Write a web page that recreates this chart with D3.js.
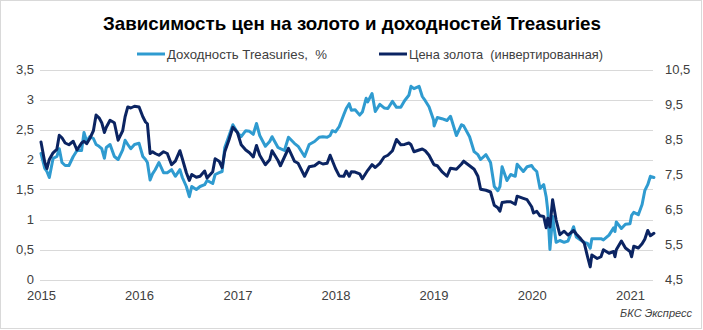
<!DOCTYPE html>
<html>
<head>
<meta charset="utf-8">
<script src="https://cdn.jsdelivr.net/npm/d3@7/dist/d3.min.js"></script>
<style>
  html, body { margin: 0; padding: 0; background: #ffffff; }
  svg { display: block; font-family: "Liberation Sans", Arial, sans-serif; }
</style>
</head>
<body>
<svg id="chart" width="703" height="330"></svg>
<script>
// ---------------- DATA ----------------
const titleText = "Зависимость цен на золото и доходностей Treasuries";
const seriesNames = ["Доходность Treasuries,  %", "Цена золота  (инвертированная)"];
const sourceText = "БКС Экспресс";

const dates = [
  "2015-01-01","2015-01-15","2015-01-23","2015-02-01","2015-02-15","2015-03-01","2015-03-10","2015-03-20",
  "2015-04-01","2015-04-15","2015-05-01","2015-05-15","2015-06-01","2015-06-10","2015-06-20","2015-07-01",
  "2015-07-15","2015-07-25","2015-08-05","2015-08-15","2015-08-25","2015-09-01","2015-09-15","2015-10-01",
  "2015-10-15","2015-11-01","2015-11-10","2015-11-20","2015-12-01","2015-12-15",
  "2016-01-01","2016-01-15","2016-01-25","2016-02-01","2016-02-11","2016-02-20","2016-03-01","2016-03-15",
  "2016-04-01","2016-04-15","2016-05-01","2016-05-15","2016-06-01","2016-06-10","2016-06-25","2016-07-06",
  "2016-07-15","2016-08-01","2016-08-15","2016-09-01","2016-09-10","2016-10-01","2016-10-10","2016-10-25",
  "2016-11-05","2016-11-15","2016-12-01","2016-12-15",
  "2017-01-01","2017-01-15","2017-02-01","2017-02-15","2017-03-01","2017-03-13","2017-03-25","2017-04-15",
  "2017-05-01","2017-05-10","2017-06-01","2017-06-10","2017-06-25","2017-07-10","2017-08-01","2017-08-15",
  "2017-09-08","2017-09-25","2017-10-15","2017-11-01","2017-11-15","2017-12-01","2017-12-12","2017-12-20",
  "2018-01-01","2018-01-15","2018-02-01","2018-02-10","2018-02-21","2018-03-01","2018-03-15","2018-04-01",
  "2018-04-11","2018-04-25","2018-05-01","2018-05-17","2018-05-29","2018-06-15","2018-07-01","2018-07-15",
  "2018-08-01","2018-08-16","2018-09-01","2018-09-15","2018-10-01","2018-10-09","2018-10-20","2018-11-08",
  "2018-11-20","2018-12-01","2018-12-15",
  "2019-01-01","2019-01-03","2019-01-15","2019-02-01","2019-02-20","2019-03-05","2019-03-27","2019-04-15",
  "2019-04-23","2019-05-15","2019-06-01","2019-06-15","2019-06-25","2019-07-15","2019-08-01","2019-08-15",
  "2019-08-28","2019-09-05","2019-09-13","2019-10-01","2019-10-15","2019-11-01","2019-11-08","2019-12-01",
  "2019-12-15",
  "2020-01-01","2020-01-08","2020-01-20","2020-02-01","2020-02-15","2020-02-24","2020-03-01","2020-03-09",
  "2020-03-19","2020-04-01","2020-04-15","2020-05-01","2020-05-15","2020-06-05","2020-06-15","2020-07-01",
  "2020-07-15","2020-07-27","2020-08-06","2020-08-12","2020-09-01","2020-09-15","2020-09-24","2020-10-15",
  "2020-11-01","2020-11-06","2020-11-11","2020-11-30","2020-12-15",
  "2021-01-01","2021-01-07","2021-01-15","2021-02-01","2021-02-15","2021-02-25","2021-03-08","2021-03-18",
  "2021-03-31"
];

const treasuryYield = [
  2.10,1.85,1.80,1.70,2.02,2.05,2.18,1.95,
  1.90,1.90,2.05,2.15,2.15,2.45,2.30,2.38,
  2.35,2.25,2.22,2.18,2.02,2.20,2.25,2.05,
  2.00,2.16,2.32,2.25,2.18,2.25,
  2.27,2.05,2.00,1.95,1.66,1.76,1.83,1.95,
  1.78,1.78,1.83,1.72,1.83,1.70,1.55,1.38,
  1.55,1.50,1.55,1.58,1.65,1.60,1.75,1.78,
  1.80,2.20,2.40,2.58,
  2.45,2.38,2.48,2.47,2.42,2.60,2.40,2.22,
  2.30,2.38,2.20,2.18,2.15,2.37,2.27,2.22,
  2.05,2.25,2.30,2.37,2.38,2.37,2.40,2.48,
  2.46,2.55,2.75,2.85,2.93,2.82,2.83,2.74,
  2.79,3.02,2.96,3.10,2.80,2.92,2.86,2.85,
  2.97,2.87,2.87,2.98,3.07,3.22,3.18,3.22,
  3.05,2.98,2.88,
  2.66,2.56,2.70,2.68,2.65,2.72,2.40,2.58,
  2.56,2.38,2.13,2.08,2.00,2.08,1.95,1.55,
  1.48,1.55,1.88,1.65,1.75,1.72,1.92,1.80,
  1.88,
  1.90,1.85,1.80,1.52,1.58,1.38,1.15,0.50,
  1.05,0.62,0.65,0.62,0.64,0.88,0.71,0.66,
  0.62,0.60,0.52,0.68,0.68,0.68,0.66,0.74,
  0.86,0.80,0.96,0.85,0.92,
  0.93,1.07,1.12,1.08,1.25,1.48,1.58,1.72,
  1.70
];

const goldInverted = [
  8.43,7.85,7.67,7.93,8.12,8.22,8.62,8.55,
  8.40,8.35,8.45,8.20,8.40,8.45,8.38,8.52,
  8.75,9.20,9.12,8.98,8.70,8.85,9.05,8.98,
  8.48,8.75,9.15,9.43,9.40,9.45,
  9.43,9.15,9.00,8.95,8.10,8.15,8.10,8.05,
  8.15,8.10,7.78,7.88,8.18,7.95,7.55,7.33,
  7.50,7.42,7.45,7.60,7.40,7.58,7.95,7.88,
  7.70,8.15,8.50,8.85,
  8.70,8.35,8.20,8.12,8.00,8.33,8.05,7.78,
  7.92,8.18,7.90,7.75,8.00,8.25,7.88,7.82,
  7.45,7.72,7.75,7.85,7.80,7.82,8.05,7.90,
  7.67,7.46,7.45,7.60,7.45,7.58,7.57,7.52,
  7.38,7.55,7.62,7.78,7.70,7.82,8.00,8.05,
  8.18,8.50,8.35,8.36,8.40,8.35,8.15,8.20,
  8.23,8.18,8.05,
  7.80,7.78,7.75,7.58,7.45,7.68,7.65,7.80,
  7.88,7.75,7.65,7.45,7.08,7.05,7.00,6.62,
  6.55,6.45,6.70,6.72,6.72,6.65,6.88,6.82,
  6.78,
  6.58,6.40,6.45,6.32,6.30,5.98,6.25,6.00,
  6.78,6.20,5.78,5.88,5.77,5.90,5.80,5.67,
  5.53,5.15,4.86,5.20,5.10,5.15,5.35,5.25,
  5.30,5.15,5.35,5.60,5.40,
  5.30,5.15,5.45,5.40,5.52,5.65,5.90,5.75,
  5.82
];

const leftTicks = [0, 0.5, 1, 1.5, 2, 2.5, 3, 3.5];
const rightTicks = [4.5, 5.5, 6.5, 7.5, 8.5, 9.5, 10.5];
const yearTicks = [2015, 2016, 2017, 2018, 2019, 2020, 2021];

// ---------------- CHART ----------------
const colors = ["#2f9bd0", "#0b2462"];
const parse = d3.timeParse("%Y-%m-%d");
const parsedDates = dates.map(parse);

const svg = d3.select("#chart");
svg.append("rect").attr("x", 0.5).attr("y", 0.5).attr("width", 701).attr("height", 328)
  .attr("fill", "#ffffff").attr("stroke", "#d9d9d9");

const plotLeft = 40, plotRight = 653, plotTop = 69.5, plotBottom = 279.5;

const x = d3.scaleTime()
  .domain([new Date(2015, 0, 1), new Date(2021, 0, 1)])
  .range([41, 630]);
const yL = d3.scaleLinear().domain([0, 3.5]).range([plotBottom, plotTop]);
const yR = d3.scaleLinear().domain([4.5, 10.5]).range([plotBottom, plotTop]);

const comma = v => String(v).replace(".", ",");

// gridlines
svg.append("g").selectAll("line").data(leftTicks).join("line")
  .attr("x1", plotLeft).attr("x2", plotRight)
  .attr("y1", d => Math.round(yL(d)) + 0.5).attr("y2", d => Math.round(yL(d)) + 0.5)
  .attr("stroke", "#d9d9d9").attr("stroke-width", 1);

// left axis
const gL = svg.append("g").attr("transform", `translate(34,0)`)
  .call(d3.axisLeft(yL).tickValues(leftTicks).tickSize(0).tickPadding(0).tickFormat(comma));
gL.select(".domain").remove();
gL.selectAll("text").attr("font-size", 13).attr("fill", "#404040")
  .attr("font-family", "Liberation Sans, Arial, sans-serif");

// right axis
const gR = svg.append("g").attr("transform", `translate(665,0)`)
  .call(d3.axisRight(yR).tickValues(rightTicks).tickSize(0).tickPadding(0).tickFormat(comma));
gR.select(".domain").remove();
gR.selectAll("text").attr("font-size", 13).attr("fill", "#404040")
  .attr("font-family", "Liberation Sans, Arial, sans-serif");

// x axis
const gX = svg.append("g").attr("transform", `translate(0,291)`)
  .call(d3.axisBottom(x).tickValues(yearTicks.map(yr => new Date(yr, 0, 1)))
    .tickSize(0).tickPadding(0).tickFormat(d3.timeFormat("%Y")));
gX.select(".domain").remove();
gX.selectAll("text").attr("font-size", 13).attr("fill", "#404040")
  .attr("font-family", "Liberation Sans, Arial, sans-serif");

// lines
const lineL = d3.line().x((d, i) => x(parsedDates[i])).y(d => yL(d)).curve(d3.curveLinear);
const lineR = d3.line().x((d, i) => x(parsedDates[i])).y(d => yR(d)).curve(d3.curveLinear);

svg.append("path").datum(treasuryYield).attr("d", lineL)
  .attr("fill", "none").attr("stroke", colors[0]).attr("stroke-width", 3)
  .attr("stroke-linejoin", "round").attr("stroke-linecap", "round");
svg.append("path").datum(goldInverted).attr("d", lineR)
  .attr("fill", "none").attr("stroke", colors[1]).attr("stroke-width", 3)
  .attr("stroke-linejoin", "round").attr("stroke-linecap", "round");

// title
svg.append("text").attr("x", 352).attr("y", 30).attr("text-anchor", "middle")
  .attr("font-size", 19).attr("font-weight", "bold").attr("fill", "#000")
  .attr("textLength", 498).attr("lengthAdjust", "spacingAndGlyphs")
  .text(titleText);

// legend
const legend = [
  {x1: 137, x2: 165, tx: 167, tl: 160},
  {x1: 379, x2: 407, tx: 409, tl: 194}
];
legend.forEach((l, i) => {
  svg.append("line").attr("x1", l.x1).attr("x2", l.x2).attr("y1", 54).attr("y2", 54)
    .attr("stroke", colors[i]).attr("stroke-width", 3);
  svg.append("text").attr("x", l.tx).attr("y", 58.5).attr("font-size", 13).attr("fill", "#404040")
    .attr("textLength", l.tl).attr("lengthAdjust", "spacingAndGlyphs")
    .attr("xml:space", "preserve").style("white-space", "pre")
    .text(seriesNames[i]);
});

// source
svg.append("text").attr("x", 692).attr("y", 317).attr("text-anchor", "end")
  .attr("font-size", 11).attr("font-style", "italic").attr("fill", "#404040")
  .text(sourceText);
</script>
</body>
</html>
